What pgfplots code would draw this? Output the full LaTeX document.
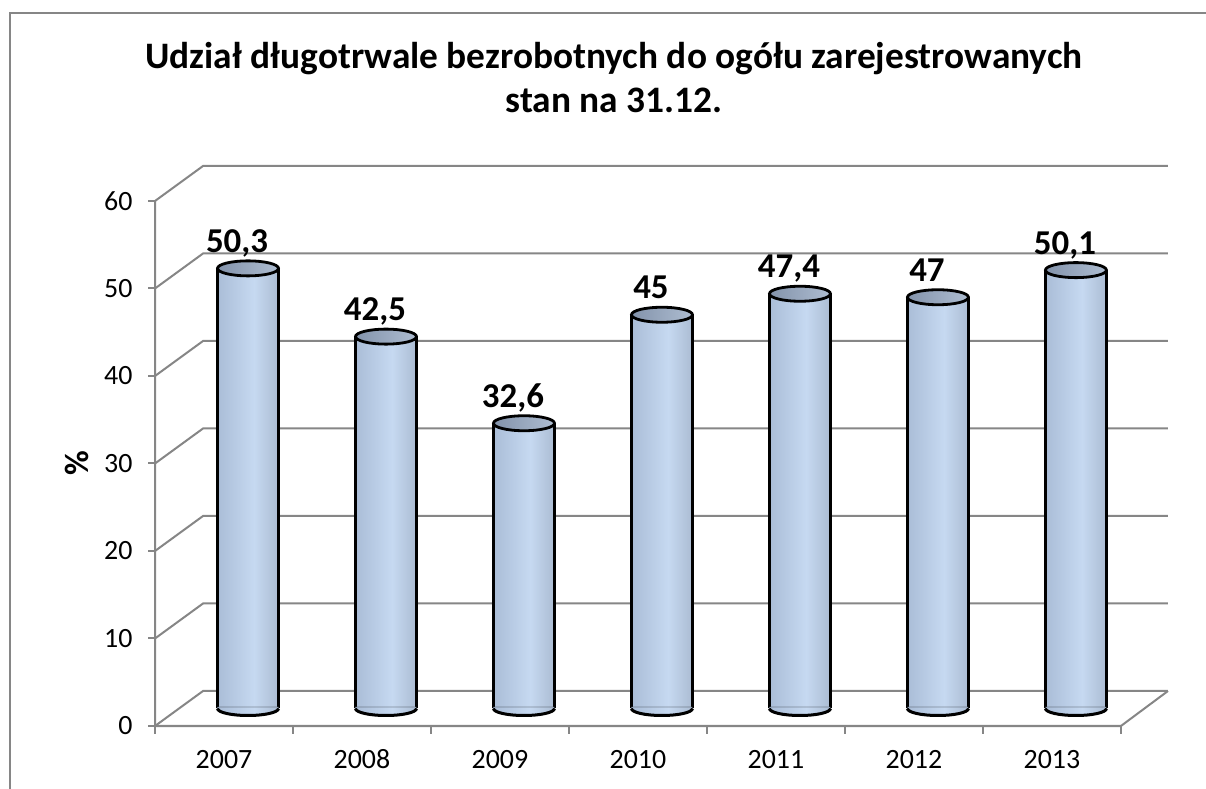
\documentclass[border=0pt]{standalone}
\usepackage{pgfplots}
\pgfplotsset{compat=1.18}
\usepackage{fontspec}
\setmainfont{Carlito}
\definecolor{gridgray}{HTML}{868686}
\definecolor{topL}{HTML}{8393AB}
\definecolor{topR}{HTML}{AEBDD1}
\definecolor{cA}{RGB}{104,117,138}
\definecolor{cB}{RGB}{158,177,204}
\definecolor{cC}{RGB}{198,217,241}
\definecolor{cD}{RGB}{156,172,194}
\definecolor{cE}{RGB}{100,112,130}
\pgfdeclarehorizontalshading{cyl}{100bp}{%
  color(0bp)=(cA);
  color(12bp)=(cB);
  color(55bp)=(cC);
  color(86bp)=(cD);
  color(100bp)=(cE)}
\pgfdeclareplotmark{cyltop}{%
  \shade[left color=topL, right color=topR, rotate=7] (0bp,0bp) ellipse[x radius=30.5bp, y radius=7.5bp];
  \draw[black, line width=2.8bp, rotate=7] (0bp,0bp) ellipse[x radius=30.5bp, y radius=7.5bp];
}
\pgfdeclareplotmark{cylbot}{%
  \shade[shading=cyl, rotate=4] (-30.5bp,1.5bp) -- (-30.5bp,0bp) arc[start angle=180, end angle=360, x radius=30.5bp, y radius=7bp] -- (30.5bp,1.5bp) -- cycle;
  \draw[black, line width=3bp, rotate=4] (-30.5bp,0bp) arc[start angle=180, end angle=360, x radius=30.5bp, y radius=7bp];
}
\pgfplotsset{
  cylbody/.style={ybar, bar width=61bp, bar shift=0pt, draw=none, shading=cyl},
}
\begin{document}
\begin{tikzpicture}
\useasboundingbox (0bp,0bp) rectangle (1206bp,789bp);
\draw[gridgray, line width=2bp] (10bp,-2bp) -- (10bp,776bp) -- (1210bp,776bp);
\begin{axis}[
  at={(155bp,63bp)}, anchor=south west,
  scale only axis, width=1013bp, height=560bp,
  xmin=-0.674, xmax=6.667, ymin=-2, ymax=62,
  axis line style={draw=none}, clip=false,
  major tick length=0pt, tick style={draw=none},
  xtick={-0.174,0.826,1.826,2.826,3.826,4.826,5.826},
  xticklabels={2007,2008,2009,2010,2011,2012,2013},
  ytick={-2,8,18,28,38,48,58},
  yticklabels={0,10,20,30,40,50,60},
  tick label style={font=\fontsize{28}{33}\selectfont},
  yticklabel style={anchor=east, xshift=-19bp},
  xticklabel style={anchor=base, yshift=-42bp},
  /pgf/number format/assume math mode=true,
  /pgf/number format/use comma,
]
% back wall and left wall gridlines
\begin{scope}[gridgray, line width=2bp]
\draw (-0.674,-2) -- (-0.326,2) -- (6.667,2);
\draw (-0.674,8) -- (-0.326,12) -- (6.667,12);
\draw (-0.674,18) -- (-0.326,22) -- (6.667,22);
\draw (-0.674,28) -- (-0.326,32) -- (6.667,32);
\draw (-0.674,38) -- (-0.326,42) -- (6.667,42);
\draw (-0.674,48) -- (-0.326,52) -- (6.667,52);
\draw (-0.674,58) -- (-0.326,62) -- (6.667,62);
% front axes
\draw (-0.674,58) -- (-0.674,-2) -- (6.326,-2) -- (6.667,2);
% y ticks
\draw (-0.674,-2) -- ++(-7bp,0bp);
\draw (-0.674,8) -- ++(-7bp,0bp);
\draw (-0.674,18) -- ++(-7bp,0bp);
\draw (-0.674,28) -- ++(-7bp,0bp);
\draw (-0.674,38) -- ++(-7bp,0bp);
\draw (-0.674,48) -- ++(-7bp,0bp);
\draw (-0.674,58) -- ++(-7bp,0bp);
% x ticks
\draw (-0.674,-2) -- ++(0bp,-8bp);
\draw (0.326,-2) -- ++(0bp,-8bp);
\draw (1.326,-2) -- ++(0bp,-8bp);
\draw (2.326,-2) -- ++(0bp,-8bp);
\draw (3.326,-2) -- ++(0bp,-8bp);
\draw (4.326,-2) -- ++(0bp,-8bp);
\draw (5.326,-2) -- ++(0bp,-8bp);
\draw (6.326,-2) -- ++(0bp,-8bp);
\end{scope}
% cylinder bodies
\addplot[cylbody] coordinates {(0,50.3)};
\addplot[cylbody] coordinates {(1,42.5)};
\addplot[cylbody] coordinates {(2,32.6)};
\addplot[cylbody] coordinates {(3,45)};
\addplot[cylbody] coordinates {(4,47.4)};
\addplot[cylbody] coordinates {(5,47)};
\addplot[cylbody] coordinates {(6,50.1)};
% bottoms
\addplot[only marks, mark=cylbot] coordinates {(0,0) (1,0) (2,0) (3,0) (4,0) (5,0) (6,0)};
% sides
\addplot[ycomb, black, line width=2.8bp, xshift=-30.5bp, mark=none] coordinates {(0,50.3) (1,42.5) (2,32.6) (3,45) (4,47.4) (5,47) (6,50.1)};
\addplot[ycomb, black, line width=2.8bp, xshift=30.5bp, mark=none] coordinates {(0,50.3) (1,42.5) (2,32.6) (3,45) (4,47.4) (5,47) (6,50.1)};
% tops with labels
\addplot[only marks, mark=cyltop,
  nodes near coords,
  every node near coord/.append style={anchor=base, yshift=16bp, xshift=-11bp,
    font=\fontsize{35}{40}\selectfont\bfseries, text=black}]
  coordinates {(0,50.3) (1,42.5) (2,32.6) (3,45) (4,47.4) (5,47) (6,50.1)};
\end{axis}
\node[rotate=90, font=\fontsize{34}{40}\selectfont\bfseries] at (77bp,326bp) {\%};
\node[anchor=base, font=\fontsize{37.5}{44}\selectfont\bfseries] at (614bp,720bp) {Udział długotrwale bezrobotnych do ogółu zarejestrowanych};
\node[anchor=base, font=\fontsize{37.5}{44}\selectfont\bfseries] at (614bp,676bp) {stan na 31.12.};
\end{tikzpicture}
\end{document}
